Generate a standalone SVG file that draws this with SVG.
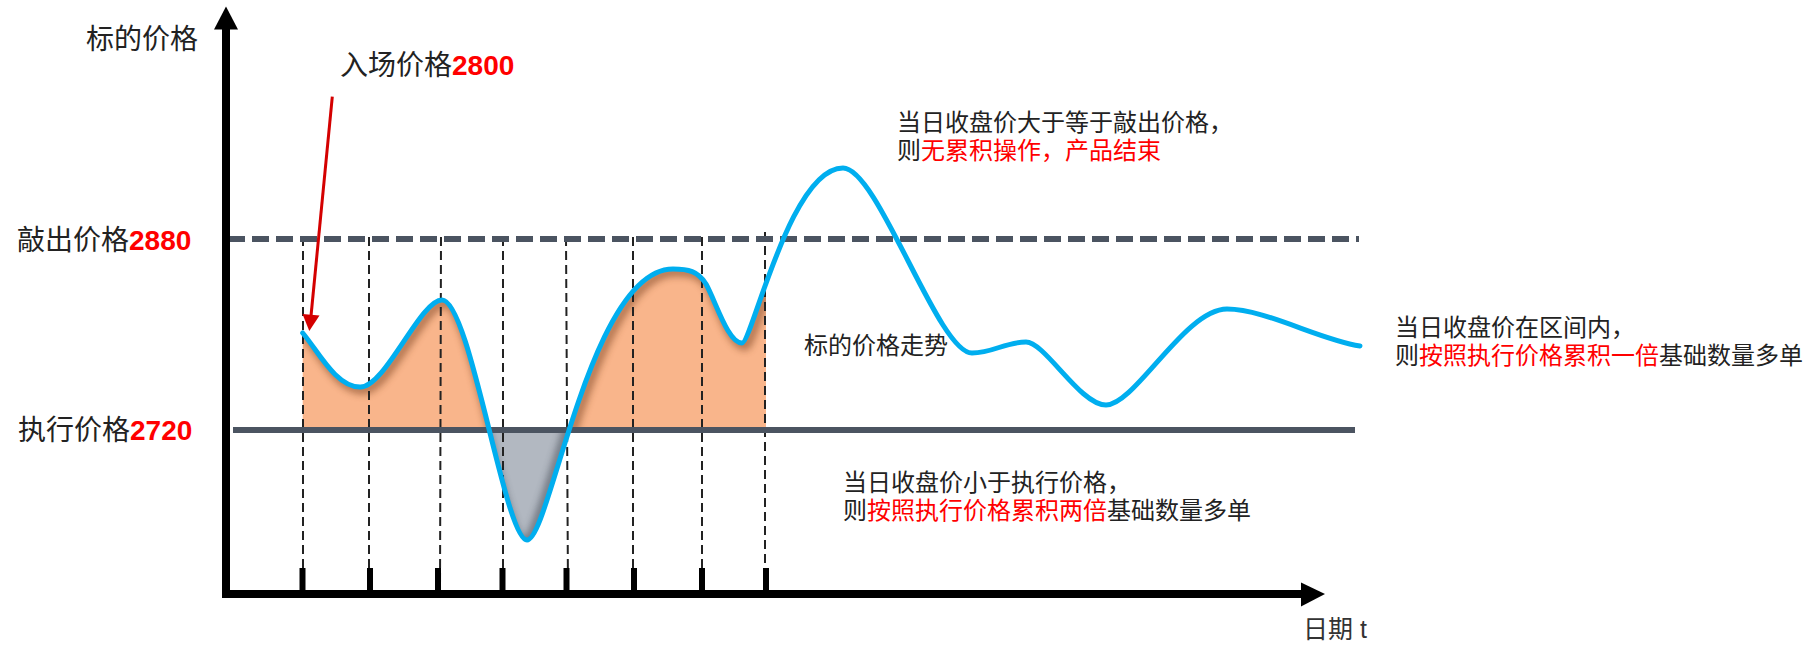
<svg xmlns="http://www.w3.org/2000/svg" width="1803" height="645" viewBox="0 0 1803 645">
<style>
.lbl{font-family:"Liberation Sans","Noto Sans CJK SC",sans-serif;font-size:28px;fill:#222}
.num{font-family:"Liberation Sans",Arial,sans-serif;font-weight:bold;fill:#ff0000}
.ann{font-family:"Liberation Sans","Noto Sans CJK SC",sans-serif;font-size:24px;fill:#222}
.red{fill:#ff0000}
.vd{stroke:#222;stroke-width:2;stroke-dasharray:9 5;fill:none}
.tick{stroke:#000;stroke-width:6}
.curve{fill:none;stroke:#00aeef;stroke-width:5;stroke-linecap:round;stroke-linejoin:round}
</style>
<defs>
<clipPath id="cFill"><path d="M302.7,430 L302.7,333 C318,351 336,387 360,387 C385,388 420,300 442,300 C470,300 505,540 527,540 C550,540 590,269 673,269 C688,269 698,271 706,284 C716,302 728,343 742,343 C752,343 790,168 843,168 L843,430 Z"/></clipPath>
<clipPath id="cUp"><rect x="302" y="150" width="464" height="280"/></clipPath>
<clipPath id="cDown"><rect x="302" y="430" width="464" height="130"/></clipPath>
<filter id="blur" x="-20%" y="-20%" width="140%" height="140%"><feGaussianBlur stdDeviation="3.5"/></filter>
</defs>

<g id="fills">
<g clip-path="url(#cUp)"><g clip-path="url(#cFill)">
<rect x="300" y="150" width="470" height="290" fill="#f9b58b"/>
<path d="M302.7,333 C318,351 336,387 360,387 C385,388 420,300 442,300 C470,300 505,540 527,540 C550,540 590,269 673,269 C688,269 698,271 706,284 C716,302 728,343 742,343 C752,343 790,168 843,168" fill="none" stroke="#7a4320" stroke-width="9" opacity="0.55" filter="url(#blur)" transform="translate(3,3)"/>
<line x1="768" y1="200" x2="768" y2="440" stroke="#7a4320" stroke-width="8" opacity="0.55" filter="url(#blur)"/>
</g></g>
<g clip-path="url(#cDown)"><g clip-path="url(#cFill)">
<rect x="300" y="428" width="470" height="130" fill="#b2b8c1"/>
<path d="M442,300 C470,300 505,540 527,540 C550,540 590,269 673,269" fill="none" stroke="#3c4450" stroke-width="9" opacity="0.55" filter="url(#blur)" transform="translate(-3,2)"/>
</g></g>
</g>

<g id="connectors">
<line class="vd" x1="303" y1="237" x2="303" y2="592"/>
<line class="vd" x1="369" y1="237" x2="369" y2="592"/>
<line class="vd" x1="441" y1="237" x2="440" y2="592"/>
<line class="vd" x1="503" y1="237" x2="503" y2="592"/>
<line class="vd" x1="566" y1="237" x2="568" y2="592"/>
<line class="vd" x1="633" y1="237" x2="633" y2="592"/>
<line class="vd" x1="702" y1="237" x2="702" y2="592"/>
<line class="vd" x1="765" y1="232" x2="765" y2="592"/>
<line id="strike-line" x1="233" y1="430" x2="1355" y2="430" stroke="#4b5461" stroke-width="6"/>
<line id="knockout-line" x1="228" y1="239" x2="1359" y2="239" stroke="#4b5461" stroke-width="6" stroke-dasharray="17 7"/>
<line class="tick" x1="302.5" y1="568" x2="302.5" y2="594"/>
<line class="tick" x1="370" y1="568" x2="370" y2="594"/>
<line class="tick" x1="438" y1="568" x2="438" y2="594"/>
<line class="tick" x1="502.5" y1="568" x2="502.5" y2="594"/>
<line class="tick" x1="566.5" y1="568" x2="566.5" y2="594"/>
<line class="tick" x1="634" y1="568" x2="634" y2="594"/>
<line class="tick" x1="702" y1="568" x2="702" y2="594"/>
<line class="tick" x1="766" y1="568" x2="766" y2="594"/>
<line id="y-axis" x1="226" y1="28" x2="226" y2="598" stroke="#000" stroke-width="8"/>
<polygon points="226,6.5 214,29.5 238,29.5" fill="#000"/>
<line id="x-axis" x1="222" y1="594" x2="1303" y2="594" stroke="#000" stroke-width="8"/>
<polygon points="1325,594 1301,582.5 1301,606.5" fill="#000"/>
<path id="price-curve" class="curve" d="M302.7,333 C318,351 336,387 360,387 C385,388 420,300 442,300 C470,300 505,540 527,540 C550,540 590,269 673,269 C688,269 698,271 706,284 C716,302 728,343 742,343 C752,343 790,168 843,168 C878,168 938,353 972,353 C993,353 1005,342 1026,342 C1045,342 1080,405 1106,405 C1135,405 1185,309 1227,309 C1265,309 1320,340 1360,346"/>
<line x1="332.3" y1="96.7" x2="311" y2="316" stroke="#d40000" stroke-width="3"/>
<polygon points="309.3,331 302.5,314 319.5,315.6" fill="#d40000"/>
</g>

<g id="label-y"><text class="lbl" x="86" y="48.5">标的价格</text></g>
<g id="label-entry"><text class="lbl" x="340" y="75">入场价格<tspan class="num">2800</tspan></text></g>
<g id="label-knockout"><text class="lbl" x="17" y="250">敲出价格<tspan class="num">2880</tspan></text></g>
<g id="label-strike"><text class="lbl" x="18" y="440">执行价格<tspan class="num">2720</tspan></text></g>
<g id="note-top"><text class="ann" x="897" y="131">当日收盘价大于等于敲出价格，</text><text class="ann" x="897" y="159">则<tspan class="red">无累积操作，产品结束</tspan></text></g>
<g id="label-trend"><text class="ann" x="804" y="354">标的价格走势</text></g>
<g id="note-bottom"><text class="ann" x="843" y="491">当日收盘价小于执行价格，</text><text class="ann" x="843" y="519">则<tspan class="red">按照执行价格累积两倍</tspan>基础数量多单</text></g>
<g id="note-right"><text class="ann" x="1395" y="336">当日收盘价在区间内，</text><text class="ann" x="1395" y="364">则<tspan class="red">按照执行价格累积一倍</tspan>基础数量多单</text></g>
<g id="label-x"><text class="ann" x="1303" y="638" style="font-size:25px;fill:#333">日期 t</text></g>
</svg>
